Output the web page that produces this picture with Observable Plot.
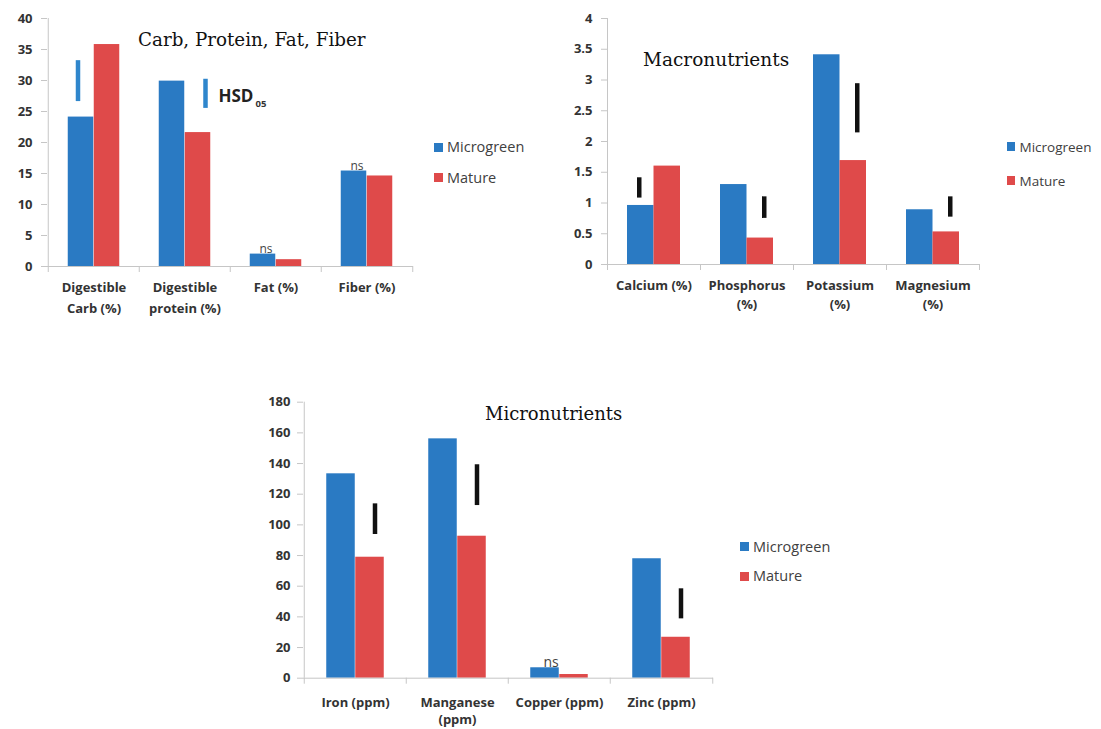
<!DOCTYPE html>
<html><head><meta charset="utf-8">
<script src="https://cdn.jsdelivr.net/npm/d3@7"></script>
<script src="https://cdn.jsdelivr.net/npm/@observablehq/plot@0.6"></script>
<style>
body{margin:0;background:#fff}
#root{position:relative;width:1101px;height:729px;overflow:hidden;background:#fff}
.title{position:absolute;font-family:"DejaVu Serif",serif;color:#111;white-space:nowrap;line-height:1}
.leg{position:absolute;display:flex;align-items:center;height:14px;font-family:"Open Sans",sans-serif;color:#404040;white-space:nowrap;line-height:14px}
.sw{width:8.5px;height:9px;margin-right:4.5px;display:inline-block}
</style></head><body><div id="root"></div>
<script>
const seriesNames = ["Microgreen", "Mature"];
const seriesColors = ["#2a7ac3", "#df4a4a"];

// Chart 1: Carb, Protein, Fat, Fiber
const carbTitle = "Carb, Protein, Fat, Fiber";
const carbCategories = ["Digestible\nCarb (%)", "Digestible\nprotein (%)", "Fat (%)", "Fiber (%)"];
const carbMicrogreen = [24.1, 29.9, 2.0, 15.4];
const carbMature = [35.8, 21.6, 1.1, 14.6];
const carbTicks = [0, 5, 10, 15, 20, 25, 30, 35, 40];
const carbHsdCategories = ["Digestible\nCarb (%)", "Digestible\nprotein (%)"];
const carbHsdOver = ["Microgreen", "Mature"];
const carbHsdLow = [26.6, 25.5];
const carbHsdHigh = [33.2, 30.2];
const carbHsdLabel = ["", "HSD"];
const carbNsCategories = ["Fat (%)", "Fiber (%)"];

// Chart 2: Macronutrients
const macroTitle = "Macronutrients";
const macroCategories = ["Calcium (%)", "Phosphorus\n(%)", "Potassium\n(%)", "Magnesium\n(%)"];
const macroMicrogreen = [0.96, 1.30, 3.41, 0.89];
const macroMature = [1.60, 0.43, 1.69, 0.53];
const macroTicks = [0, 0.5, 1, 1.5, 2, 2.5, 3, 3.5, 4];
const macroHsdCategories = ["Calcium (%)", "Phosphorus\n(%)", "Potassium\n(%)", "Magnesium\n(%)"];
const macroHsdOver = ["Microgreen", "Mature", "Mature", "Mature"];
const macroHsdLow = [1.08, 0.75, 2.14, 0.77];
const macroHsdHigh = [1.41, 1.10, 2.94, 1.10];
const macroHsdLabel = ["", "", "", ""];
const macroNsCategories = [];

// Chart 3: Micronutrients
const microTitle = "Micronutrients";
const microCategories = ["Iron (ppm)", "Manganese\n(ppm)", "Copper (ppm)", "Zinc (ppm)"];
const microMicrogreen = [133.3, 156.1, 6.8, 77.9];
const microMature = [78.9, 92.6, 2.4, 26.7];
const microTicks = [0, 20, 40, 60, 80, 100, 120, 140, 160, 180];
const microHsdCategories = ["Iron (ppm)", "Manganese\n(ppm)", "Zinc (ppm)"];
const microHsdOver = ["Mature", "Mature", "Mature"];
const microHsdLow = [93.7, 112.6, 38.7];
const microHsdHigh = [113.7, 139.2, 58.3];
const microHsdLabel = ["", "", ""];
const microNsCategories = ["Copper (ppm)"];

const axisColor = "#c6c6c6";
const root = document.getElementById("root");

function makeChart(cfg) {
  const rows = cfg.categories.flatMap((c, i) => [
    {category: c, series: seriesNames[0], value: cfg.micro[i]},
    {category: c, series: seriesNames[1], value: cfg.mature[i]}
  ]);
  const hsd = cfg.hsdCategories.map((c, i) => ({
    category: c, over: cfg.hsdOver[i], low: cfg.hsdLow[i], high: cfg.hsdHigh[i], label: cfg.hsdLabel[i]
  }));
  const ns = cfg.nsCategories.map(c => {
    const i = cfg.categories.indexOf(c);
    return {category: c, value: Math.max(cfg.micro[i], cfg.mature[i])};
  });
  const bw = (cfg.width - cfg.ml - cfg.mr) / cfg.categories.length;
  const side = (bw - 2 * cfg.barW) / 2;
  const last = cfg.categories[cfg.categories.length - 1];
  const yMax = cfg.ticks[cfg.ticks.length - 1];
  const matureHsdDx = cfg.barW / 2 + cfg.shiftMature;
  const svg = Plot.plot({
    width: cfg.width,
    height: cfg.height,
    marginLeft: cfg.ml, marginRight: cfg.mr, marginTop: cfg.mt, marginBottom: cfg.mb,
    x: {domain: cfg.categories, padding: 0, label: null},
    y: {domain: [0, yMax], label: null},
    color: {domain: seriesNames, range: seriesColors},
    style: {
      position: "absolute", left: cfg.left + "px", top: cfg.top + "px",
      fontFamily: "'Open Sans', sans-serif", background: "transparent", overflow: "visible"
    },
    marks: [
      Plot.barY(rows.filter(d => d.series === seriesNames[0]), {
        x: "category", y: "value", fill: "series", insetLeft: side, insetRight: side + cfg.barW
      }),
      Plot.barY(rows.filter(d => d.series === seriesNames[1]), {
        x: "category", y: "value", fill: "series", insetLeft: side + cfg.barW, insetRight: side
      }),
      Plot.ruleY([0], {stroke: axisColor}),
      Plot.ruleX(cfg.categories.slice(0, 1), {x: d => d, y1: 0, y2: yMax, dx: -bw / 2, stroke: axisColor}),
      Plot.ruleX(cfg.categories, {x: d => d, y1: 0, y2: 0, insetBottom: -6, dx: -bw / 2, stroke: axisColor}),
      Plot.ruleX([last], {x: d => d, y1: 0, y2: 0, insetBottom: -6, dx: bw / 2, stroke: axisColor}),
      Plot.ruleX(hsd.filter(d => d.over === seriesNames[0]), {
        x: "category", y1: "low", y2: "high", dx: -cfg.barW / 2 + cfg.shiftMicro,
        stroke: cfg.hsdColor, strokeWidth: 4.5
      }),
      Plot.ruleX(hsd.filter(d => d.over === seriesNames[1]), {
        x: "category", y1: "low", y2: "high", dx: matureHsdDx,
        stroke: cfg.hsdColor, strokeWidth: 4.5
      }),
      Plot.text(hsd.filter(d => d.label), {
        x: "category", y: d => (d.low + d.high) / 2, text: "label", textAnchor: "start",
        dx: matureHsdDx + 13, dy: 3, fontSize: 17, fontWeight: "bold", fill: "#222"
      }),
      Plot.text(hsd.filter(d => d.label), {
        x: "category", y: d => (d.low + d.high) / 2, text: () => "05", textAnchor: "start",
        dx: matureHsdDx + 50, dy: 10, fontSize: 9.5, fontWeight: "bold", fill: "#333"
      }),
      Plot.text(ns, {
        x: "category", y: "value", text: () => "ns", dx: -cfg.barW / 2 + cfg.nsShift, dy: -1,
        lineAnchor: "bottom", fontSize: cfg.nsSize, fill: "#444"
      }),
      Plot.axisY({
        ticks: cfg.ticks, tickFormat: d => String(d), tickSize: 6, tickPadding: cfg.yPad,
        stroke: axisColor, fill: "#333", fontSize: 13, fontWeight: "bold", label: null
      }),
      Plot.axisX({
        tickSize: 0, tickPadding: cfg.xPad, fill: "#333", fontSize: 13, fontWeight: "bold",
        lineHeight: cfg.lineHeight, label: null
      })
    ]
  });
  root.appendChild(svg);

  const t = document.createElement("div");
  t.className = "title";
  t.textContent = cfg.title;
  t.style.left = cfg.titleLeft + "px";
  t.style.top = cfg.titleTop + "px";
  t.style.fontSize = cfg.titleSize + "px";
  root.appendChild(t);

  seriesNames.forEach((name, i) => {
    const row = document.createElement("div");
    row.className = "leg";
    row.style.left = cfg.legLeft + "px";
    row.style.top = (cfg.legTops[i] - 7) + "px";
    row.style.fontSize = cfg.legSize + "px";
    const sw = document.createElement("span");
    sw.className = "sw";
    sw.style.background = seriesColors[i];
    row.appendChild(sw);
    row.appendChild(document.createTextNode(name));
    root.appendChild(row);
  });
}

makeChart({
  title: carbTitle, categories: carbCategories, micro: carbMicrogreen, mature: carbMature, ticks: carbTicks,
  hsdCategories: carbHsdCategories, hsdOver: carbHsdOver, hsdLow: carbHsdLow, hsdHigh: carbHsdHigh,
  hsdLabel: carbHsdLabel, nsCategories: carbNsCategories,
  left: 0, top: 0, width: 420, height: 320, ml: 47, mr: 7, mt: 18, mb: 54,
  barW: 26, shiftMicro: -3, shiftMature: 7.5, hsdColor: "#2f86cc", nsSize: 12, nsShift: 3,
  yPad: 9, xPad: 10, lineHeight: 1.65,
  titleLeft: 138, titleTop: 31.2, titleSize: 18.3,
  legLeft: 434, legTops: [147.2, 177.7], legSize: 14.5
});

makeChart({
  title: macroTitle, categories: macroCategories, micro: macroMicrogreen, mature: macroMature, ticks: macroTicks,
  hsdCategories: macroHsdCategories, hsdOver: macroHsdOver, hsdLow: macroHsdLow, hsdHigh: macroHsdHigh,
  hsdLabel: macroHsdLabel, nsCategories: macroNsCategories,
  left: 560, top: 0, width: 430, height: 320, ml: 47, mr: 11, mt: 18, mb: 56,
  barW: 26.5, shiftMicro: -1.5, shiftMature: 4, hsdColor: "#111", nsSize: 12, nsShift: 0,
  yPad: 9, xPad: 12.5, lineHeight: 1.45,
  titleLeft: 643, titleTop: 51.2, titleSize: 18.5,
  legLeft: 1006.5, legTops: [146.7, 180.5], legSize: 13.5
});

makeChart({
  title: microTitle, categories: microCategories, micro: microMicrogreen, mature: microMature, ticks: microTicks,
  hsdCategories: microHsdCategories, hsdOver: microHsdOver, hsdLow: microHsdLow, hsdHigh: microHsdHigh,
  hsdLabel: microHsdLabel, nsCategories: microNsCategories,
  left: 256, top: 383, width: 470, height: 346, ml: 47, mr: 13, mt: 18.7, mb: 51.3,
  barW: 29, shiftMicro: 0, shiftMature: 5, hsdColor: "#111", nsSize: 14, nsShift: 6,
  yPad: 7, xPad: 16, lineHeight: 1.35,
  titleLeft: 485, titleTop: 404.6, titleSize: 18,
  legLeft: 740, legTops: [546.7, 576.2], legSize: 14.5
});
</script></body></html>
